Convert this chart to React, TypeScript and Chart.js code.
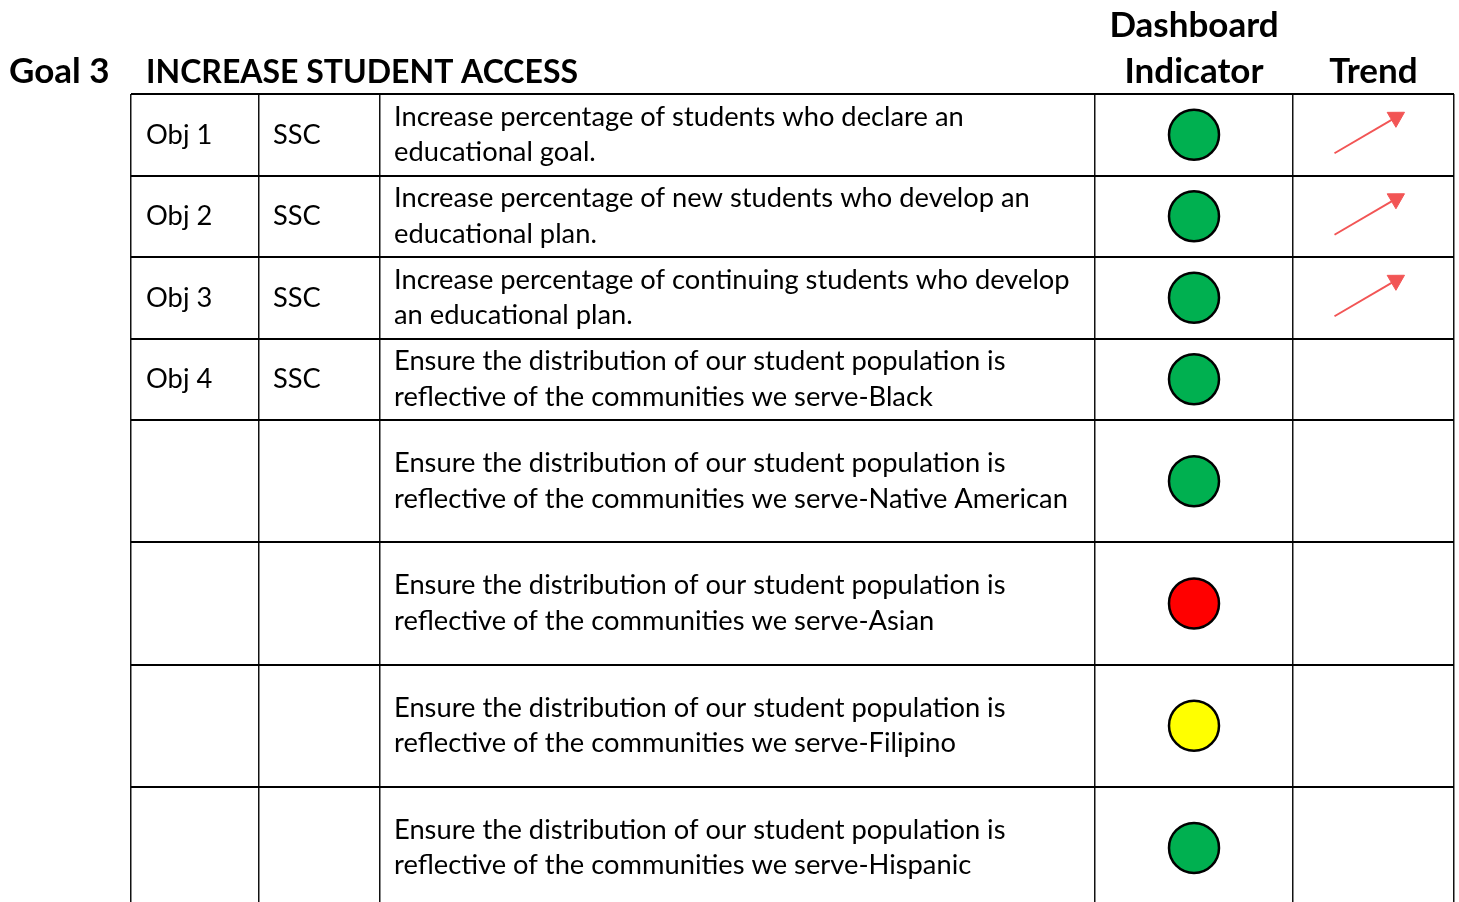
import React, { useEffect, useRef } from "react";
import { Chart, registerables } from "chart.js";

Chart.register(...registerables);

// ---------- data ----------
const goalLabel = "Goal 3";
const goalTitle = "INCREASE STUDENT ACCESS";
const indicatorHeader = ["Dashboard", "Indicator"];
const trendHeader = "Trend";

const objectives = ["Obj 1", "Obj 2", "Obj 3", "Obj 4", "", "", "", ""];
const owners = ["SSC", "SSC", "SSC", "SSC", "", "", "", ""];
const descriptions: string[][] = [
  ["Increase percentage of students who declare an", "educational goal."],
  ["Increase percentage of new students who develop an", "educational plan."],
  ["Increase percentage of continuing students who develop", "an educational plan."],
  ["Ensure the distribution of our student population is", "reflective of the communities we serve-Black"],
  ["Ensure the distribution of our student population is", "reflective of the communities we serve-Native American"],
  ["Ensure the distribution of our student population is", "reflective of the communities we serve-Asian"],
  ["Ensure the distribution of our student population is", "reflective of the communities we serve-Filipino"],
  ["Ensure the distribution of our student population is", "reflective of the communities we serve-Hispanic"],
];
const indicators = ["green", "green", "green", "green", "green", "red", "yellow", "green"];
const trends: (string | null)[] = ["up", "up", "up", null, null, null, null, null];

// ---------- layout / style ----------
const W = 1459;
const H = 902;
const TABLE_LEFT = 131;
const TABLE_TOP = 94;
const TABLE_RIGHT = 1454;
const ROW_UNIT_PX = 81.5;
const colEdges = [0, 128, 249, 964, 1162, 1323]; // px from table left
const rowHeights = [1, 1, 1, 1, 1.5, 1.5, 1.5, 1.5]; // in row units
const statusColors: Record<string, string> = {
  green: "#00B050",
  red: "#FF0000",
  yellow: "#FFFF00",
};
const ARROW_COLOR = "#F25555";
const FONT = "Lato, 'Open Sans', sans-serif";
const BODY_SIZE = 27.3;
const TITLE_SIZE = 32;
const HEAD_SIZE = 35;
const LINE_GAP = 35.5;

const rowEdges: number[] = [0];
rowHeights.forEach((h) => rowEdges.push(rowEdges[rowEdges.length - 1] + h));
const rowCenters = rowHeights.map((h, i) => rowEdges[i] + h / 2);
const colCenter = (c: number) => (colEdges[c] + colEdges[c + 1]) / 2;

// arrow geometry in pixels relative to trend-cell centre
const ARROW_DX = 35;
const ARROW_DY = 20.5;
const ARROW_SHIFT_X = -4;
const ARROW_SHIFT_Y = -2;
const HEAD_R = 10;

const zeroFit = (s: any) => {
  if (s.isHorizontal()) s.height = 0;
  else s.width = 0;
  s.paddingLeft = 0;
  s.paddingRight = 0;
  s.paddingTop = 0;
  s.paddingBottom = 0;
};

export default function App() {
  const ref = useRef<HTMLCanvasElement | null>(null);

  useEffect(() => {
    const canvas = ref.current;
    if (!canvas) return;

    const circleData = indicators.map((_, i) => ({ x: colCenter(3), y: rowCenters[i] }));

    const len = Math.hypot(2 * ARROW_DX, 2 * ARROW_DY);
    const ux = (2 * ARROW_DX) / len;
    const uy = (2 * ARROW_DY) / len;
    const rotation = (Math.atan2(ux, uy) * 180) / Math.PI;

    const arrowLineSets: any[] = [];
    const headData: { x: number; y: number }[] = [];
    trends.forEach((t, i) => {
      if (t !== "up") return;
      const cx = colCenter(4) + ARROW_SHIFT_X;
      const cy = rowCenters[i] + ARROW_SHIFT_Y / ROW_UNIT_PX;
      const dyU = ARROW_DY / ROW_UNIT_PX;
      const tipX = cx + ARROW_DX;
      const tipY = cy - dyU;
      const hx = tipX - HEAD_R * ux;
      const hy = tipY + (HEAD_R * uy) / ROW_UNIT_PX;
      arrowLineSets.push({
        type: "line",
        data: [
          { x: cx - ARROW_DX, y: cy + dyU },
          { x: hx, y: hy },
        ],
        borderColor: ARROW_COLOR,
        borderWidth: 2,
        pointRadius: 0,
        showLine: true,
        fill: false,
        order: 2,
      });
      headData.push({ x: hx, y: hy });
    });

    const textPlugin = {
      id: "tableText",
      afterDraw(chart: any) {
        const ctx = chart.ctx as CanvasRenderingContext2D;
        const xs = chart.scales.x;
        const ys = chart.scales.y;
        ctx.save();
        ctx.fillStyle = "#000";
        // headers
        ctx.textBaseline = "alphabetic";
        ctx.textAlign = "left";
        ctx.font = `bold ${HEAD_SIZE}px ${FONT}`;
        ctx.fillText(goalLabel, 9, 83);
        ctx.font = `bold ${TITLE_SIZE}px ${FONT}`;
        ctx.fillText(goalTitle, xs.getPixelForValue(colEdges[0]) + 15, 83);
        ctx.font = `bold ${HEAD_SIZE}px ${FONT}`;
        ctx.textAlign = "center";
        const ic = xs.getPixelForValue(colCenter(3));
        ctx.fillText(indicatorHeader[0], ic, 37);
        ctx.fillText(indicatorHeader[1], ic, 83);
        ctx.fillText(trendHeader, xs.getPixelForValue(colCenter(4)), 83);

        // body
        ctx.font = `${BODY_SIZE}px ${FONT}`;
        ctx.textAlign = "left";
        ctx.textBaseline = "middle";
        rowCenters.forEach((rc, i) => {
          const y = ys.getPixelForValue(rc);
          if (objectives[i]) ctx.fillText(objectives[i], xs.getPixelForValue(colEdges[0]) + 15, y);
          if (owners[i]) ctx.fillText(owners[i], xs.getPixelForValue(colEdges[1]) + 14, y);
          const lines = descriptions[i];
          const x3 = xs.getPixelForValue(colEdges[2]) + 14;
          lines.forEach((ln, k) => {
            const off = (k - (lines.length - 1) / 2) * LINE_GAP;
            ctx.fillText(ln, x3, y + off);
          });
        });
        ctx.restore();
      },
    };

    const chart = new Chart(canvas, {
      type: "scatter",
      data: {
        datasets: [
          {
            data: circleData,
            pointRadius: 25,
            pointHoverRadius: 25,
            pointBackgroundColor: indicators.map((s) => statusColors[s]),
            pointBorderColor: "#000",
            pointBorderWidth: 2.5,
            order: 1,
          } as any,
          ...arrowLineSets,
          {
            data: headData,
            pointStyle: "triangle",
            pointRadius: HEAD_R,
            pointRotation: rotation,
            pointBackgroundColor: ARROW_COLOR,
            pointBorderColor: ARROW_COLOR,
            pointBorderWidth: 1,
            order: 0,
          } as any,
        ],
      },
      options: {
        responsive: false,
        animation: false,
        events: [],
        layout: {
          autoPadding: false,
          padding: { left: TABLE_LEFT, top: TABLE_TOP, right: W - TABLE_RIGHT, bottom: 0 },
        },
        plugins: { legend: { display: false }, tooltip: { enabled: false } },
        scales: {
          x: {
            type: "linear",
            min: colEdges[0],
            max: colEdges[colEdges.length - 1],
            afterBuildTicks: (s: any) => {
              s.ticks = colEdges.map((v) => ({ value: v }));
            },
            afterFit: zeroFit,
            ticks: { display: false },
            grid: { color: "#111", lineWidth: 1.5, drawTicks: false },
            border: { display: false },
          },
          y: {
            type: "linear",
            reverse: true,
            min: 0,
            max: (H - TABLE_TOP) / ROW_UNIT_PX,
            afterBuildTicks: (s: any) => {
              s.ticks = rowEdges.filter((v) => v <= (H - TABLE_TOP) / ROW_UNIT_PX).map((v) => ({ value: v }));
            },
            afterFit: zeroFit,
            ticks: { display: false },
            grid: { color: "#000", lineWidth: 2, drawTicks: false },
            border: { display: false },
          },
        },
      },
      plugins: [textPlugin],
    } as any);

    return () => chart.destroy();
  }, []);

  return (
    <div style={{ position: "absolute", left: 0, top: 0, width: W, height: H, background: "#fff" }}>
      <canvas ref={ref} width={W} height={H} style={{ display: "block" }} />
    </div>
  );
}
